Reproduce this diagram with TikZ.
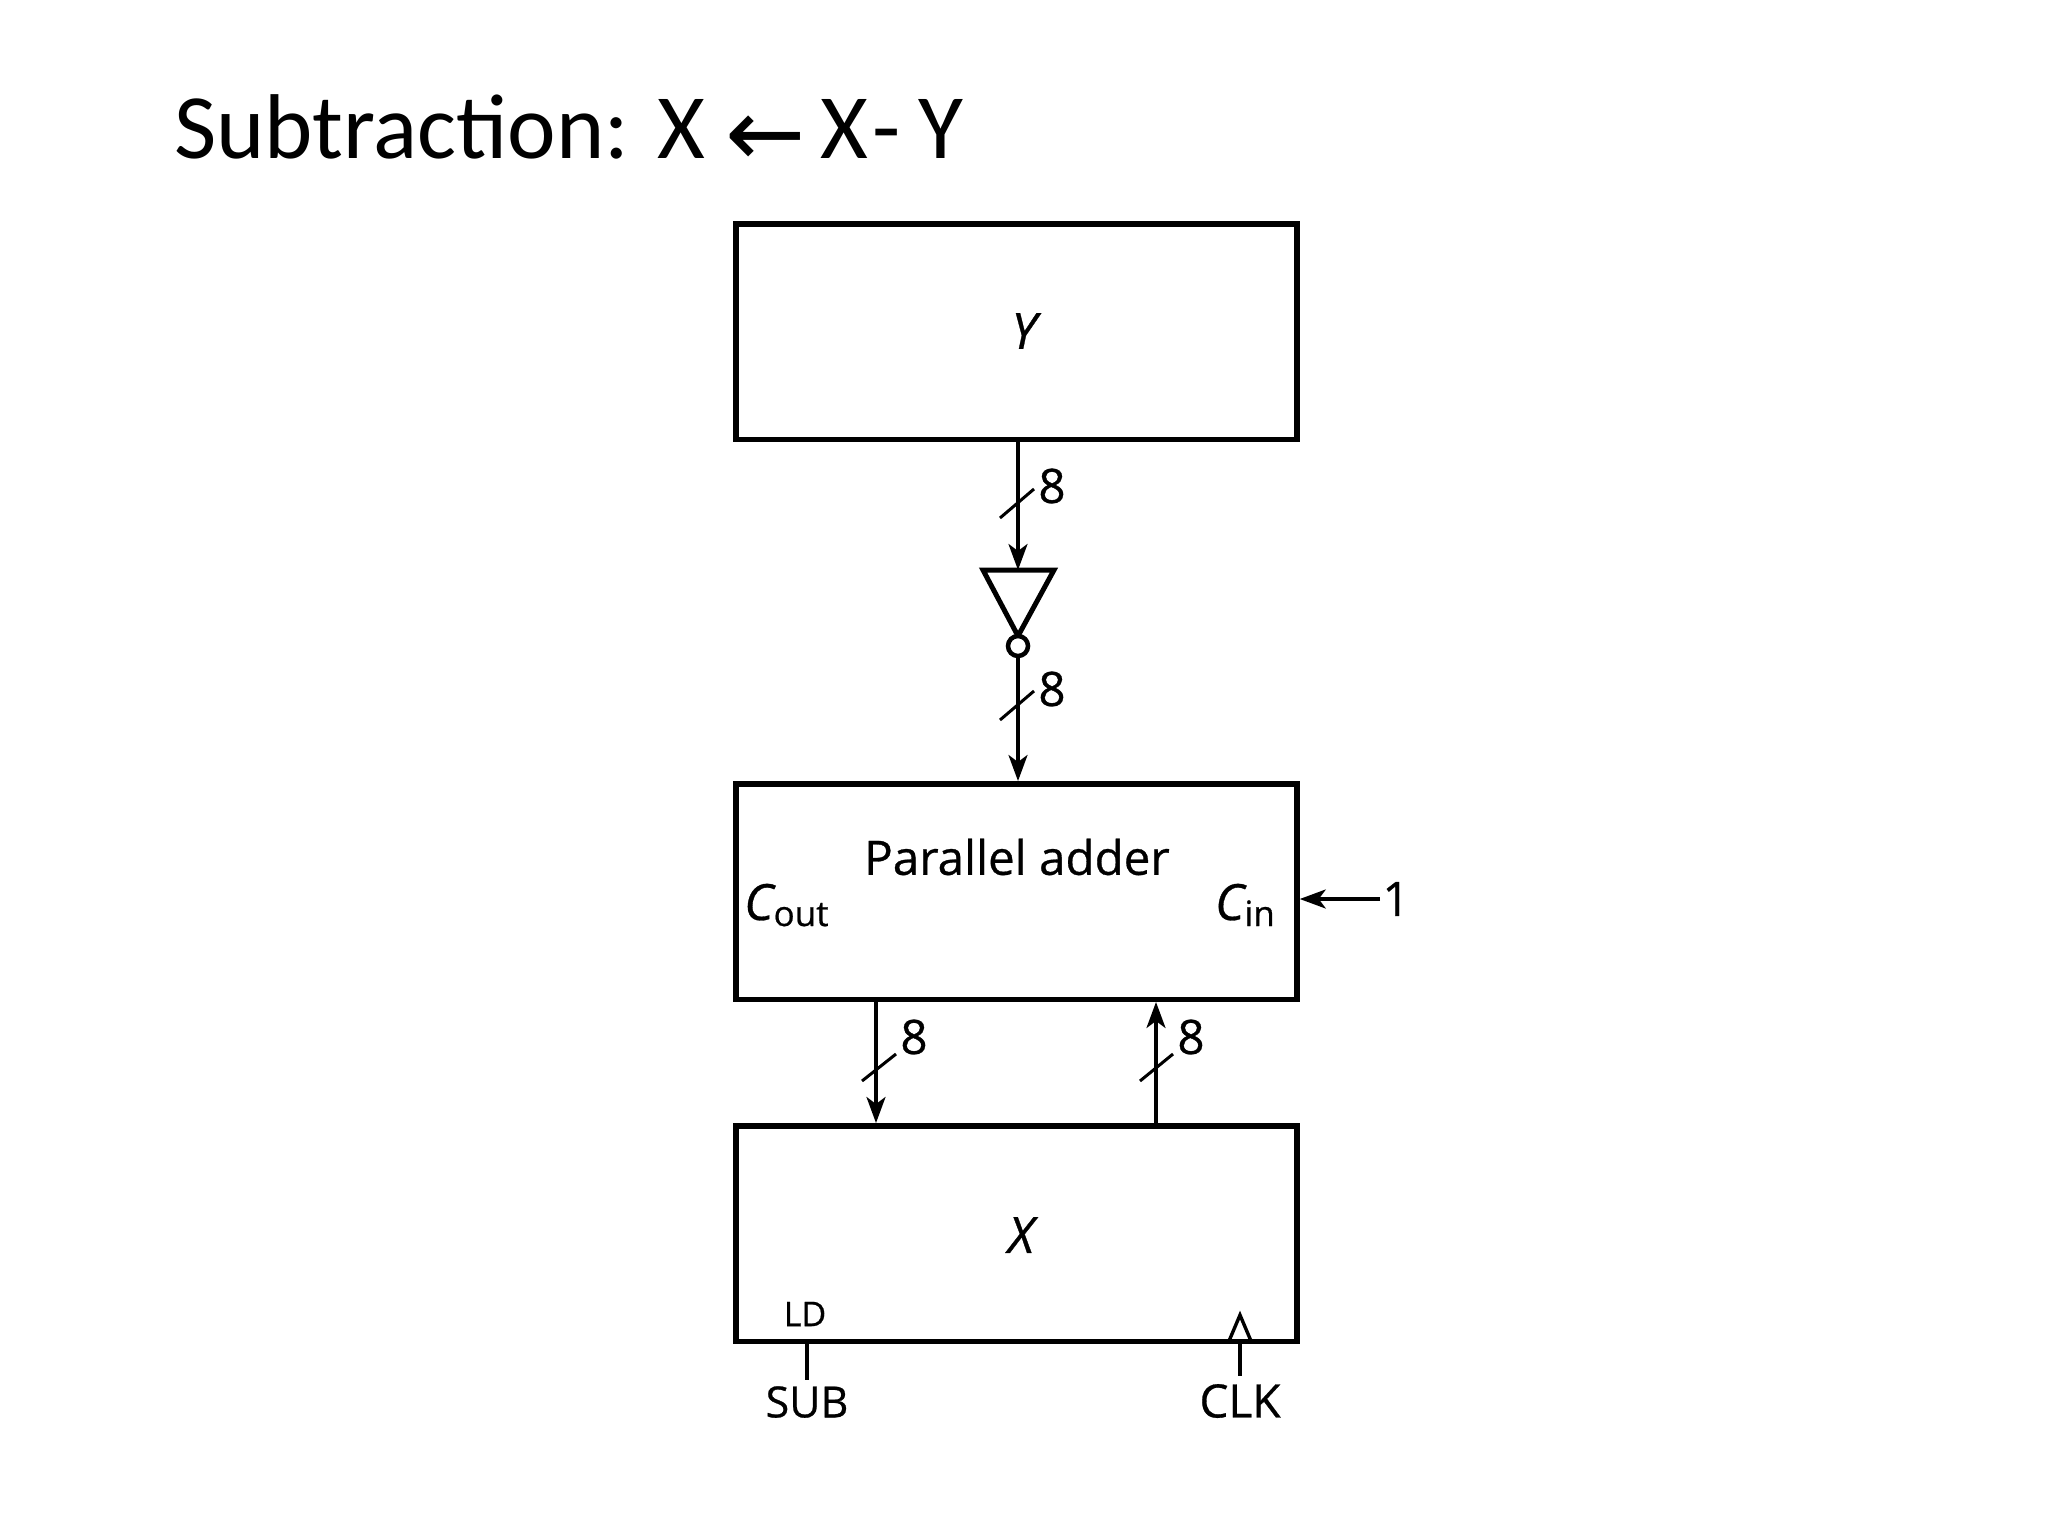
\documentclass[tikz,border=0pt]{standalone}
\usepackage{fontspec}
\setmainfont[FakeBold=0.6]{Open Sans}
\newfontfamily\titlefont{Carlito}
\newfontfamily\arrowfont{DejaVu Sans}
\usetikzlibrary{arrows.meta}
\tikzset{
  x=1pt,y=-1pt,
  box/.style={draw=black,line width=5.5pt,minimum width=561pt,minimum height=215.5pt,inner sep=0pt},
  wire/.style={line width=3.4pt,draw=black},
  arrowed/.style={wire,-{Stealth[length=26pt,width=19pt,inset=7pt]}},
  slash/.style={line width=3pt,draw=black},
  lab/.style={font=\fontsize{47.5}{50}\selectfont,inner sep=0pt,text=black},
  smalllab/.style={font=\fontsize{34}{36}\selectfont,inner sep=0pt,text=black},
  sym/.style={font=\fontsize{50}{54}\selectfont\itshape,inner sep=0pt,text=black},
  gate/.style={draw=black,line width=5pt,line join=miter,fill=white}
}
\begin{document}
\begin{tikzpicture}
\useasboundingbox (0,0) rectangle (2048,1536);
\fill[white] (0,0) rectangle (2048,1536);
\node[anchor=base west,inner sep=0pt,font=\fontsize{92}{100}\selectfont\titlefont] (title) at (174,159)
  {Subtraction: X {\arrowfont\fontsize{96}{100}\selectfont\raisebox{-8pt}{←}}\kern-6pt{} X\kern4pt-\kern-3pt{} Y};

\node[box] (yreg) at (1016.5,331.5) {};
\node[box] (adder) at (1016.5,891.5) {};
\node[box] (xreg) at (1016.5,1233.5) {};

\node[sym] (ylab) at (1024,331) {Y};
\node[sym] (xlab) at (1021,1235) {X};
\node[lab] (plab) at (1017,857) {Parallel adder};
\node[sym,anchor=base west] (cout) at (744,920) {C\kern0pt{\upshape\fontsize{35}{36}\selectfont\raisebox{-6pt}{out}}};
\node[sym,anchor=base east] (cin) at (1275,920) {C\kern0pt{\upshape\fontsize{35}{36}\selectfont\raisebox{-6pt}{in}}};
\node[lab] (one) at (1396,899) {1};
\coordinate (cinpt) at (adder.east |- one);
\draw[arrowed] (one.west) ++(-2,0) -- (cinpt);

% inverter
\coordinate (invtop) at (1018,570);
\coordinate (invl) at (983,570);
\coordinate (invr) at (1054,570);
\coordinate (invtip) at (1018,636);
\draw[gate] (invl) -- (invr) -- (invtip) -- cycle;
\node[draw=black,line width=4.5pt,circle,fill=white,minimum size=20pt,inner sep=0pt] (bub) at (1018,646) {};

\coordinate (ybot) at (invtop |- yreg.south);
\draw[arrowed] (ybot) -- (invtop);
\draw[arrowed] (bub.south) -- (bub.south |- adder.north);

\coordinate (s1a) at (1000,518); \coordinate (s1b) at (1034,489);
\draw[slash] (s1a) -- (s1b);
\node[lab] (n1) at (1052,486) {8};
\coordinate (s2a) at (1000,720); \coordinate (s2b) at (1034,691);
\draw[slash] (s2a) -- (s2b);
\node[lab] (n2) at (1052,689) {8};

% adder to X
\coordinate (la) at (876,999);
\coordinate (ra) at (1156,999);
\draw[arrowed] (la |- adder.south) -- (la |- xreg.north);
\draw[arrowed] (ra |- xreg.north) -- (ra |- adder.south);
\coordinate (s3a) at (862,1081); \coordinate (s3b) at (896,1054);
\draw[slash] (s3a) -- (s3b);
\node[lab] (n3) at (914,1037) {8};
\coordinate (s4a) at (1140,1081); \coordinate (s4b) at (1173,1054);
\draw[slash] (s4a) -- (s4b);
\node[lab] (n4) at (1191,1037) {8};

% control inputs
\node[smalllab] (ld) at (805,1314) {LD};
\node[lab,font=\fontsize{43}{46}\selectfont] (sub) at (807,1402) {SUB};
\node[lab,font=\fontsize{46}{50}\selectfont] (clk) at (1240,1401) {CLK};
\draw[wire] (sub.north |- xreg.south) -- ([yshift=6pt]sub.north);
\draw[wire] (clk.north |- xreg.south) -- ([yshift=8pt]clk.north);
\coordinate (cl) at (1229,1341); \coordinate (cr) at (1251,1341); \coordinate (ct) at (1240,1315);
\draw[line width=3.4pt,draw=black] (cl) -- (ct) -- (cr);
\end{tikzpicture}
\end{document}
